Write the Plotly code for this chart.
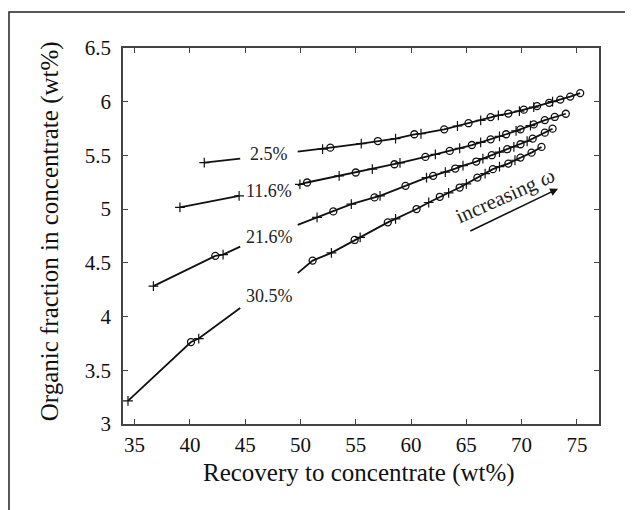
import plotly.graph_objects as go

# ---- data ----
labels = ["2.5%", "11.6%", "21.6%", "30.5%"]

s1_plus_x = [41.3, 52.0, 55.5, 58.6, 60.9, 64.2, 66.3, 67.9, 69.8, 71.1, 72.8]
s1_plus_y = [5.433, 5.558, 5.609, 5.656, 5.702, 5.774, 5.827, 5.873, 5.913, 5.950, 6.000]
s1_circ_x = [52.7, 57.0, 60.3, 63.0, 65.2, 67.2, 68.8, 70.2, 71.4, 72.5, 73.5, 74.4, 75.3]
s1_circ_y = [5.572, 5.634, 5.697, 5.743, 5.800, 5.857, 5.890, 5.926, 5.959, 5.990, 6.020, 6.048, 6.080]
s1_ends_x = [44.55, 49.75]
s1_ends_y = [5.470, 5.535]

s2_plus_x = [39.1, 44.45, 49.95, 53.5, 56.5, 59.0, 62.2, 64.4, 66.3, 68.0, 69.5, 70.8]
s2_plus_y = [5.016, 5.124, 5.230, 5.310, 5.372, 5.430, 5.509, 5.567, 5.622, 5.677, 5.729, 5.778]
s2_circ_x = [50.6, 55.0, 58.5, 61.3, 63.5, 65.5, 67.2, 68.6, 69.9, 71.1, 72.1, 73.0, 74.0]
s2_circ_y = [5.248, 5.341, 5.418, 5.486, 5.542, 5.597, 5.650, 5.697, 5.743, 5.789, 5.829, 5.858, 5.888]
s2_ends_x = [49.75]
s2_ends_y = [5.222]

s3_plus_x = [36.7, 43.0, 51.5, 54.6, 57.2, 61.4, 63.1, 64.7, 66.5, 68.0, 69.3, 70.5]
s3_plus_y = [4.283, 4.577, 4.923, 5.047, 5.124, 5.294, 5.345, 5.405, 5.470, 5.530, 5.580, 5.632]
s3_circ_x = [42.3, 52.97, 56.7, 59.5, 62.0, 64.0, 65.9, 67.3, 68.7, 69.9, 71.0, 72.1, 72.8]
s3_circ_y = [4.565, 4.979, 5.109, 5.217, 5.310, 5.378, 5.443, 5.502, 5.558, 5.604, 5.656, 5.712, 5.749]
s3_ends_x = [44.55, 49.75]
s3_ends_y = [4.651, 4.853]

s4_plus_x = [34.4, 40.8, 52.8, 55.4, 58.6, 61.6, 63.4, 65.0, 66.7, 68.0, 69.4]
s4_plus_y = [3.216, 3.795, 4.593, 4.738, 4.910, 5.062, 5.152, 5.235, 5.330, 5.395, 5.455]
s4_circ_x = [40.1, 51.1, 54.9, 57.9, 60.5, 62.6, 64.4, 66.0, 67.4, 68.8, 69.9, 70.9, 71.8]
s4_circ_y = [3.763, 4.521, 4.713, 4.877, 5.001, 5.115, 5.201, 5.294, 5.372, 5.424, 5.480, 5.526, 5.579]
s4_ends_x = [44.55, 49.75]
s4_ends_y = [4.079, 4.404]

label_x = [47.17, 47.17, 47.17, 47.17]
label_y = [5.517, 5.171, 4.744, 4.190]

x_ticks = [35, 40, 45, 50, 55, 60, 65, 70, 75]
y_ticks = [3, 3.5, 4, 4.5, 5, 5.5, 6, 6.5]

series = [
    (s1_plus_x, s1_plus_y, s1_circ_x, s1_circ_y, s1_ends_x, s1_ends_y),
    (s2_plus_x, s2_plus_y, s2_circ_x, s2_circ_y, s2_ends_x, s2_ends_y),
    (s3_plus_x, s3_plus_y, s3_circ_x, s3_circ_y, s3_ends_x, s3_ends_y),
    (s4_plus_x, s4_plus_y, s4_circ_x, s4_circ_y, s4_ends_x, s4_ends_y),
]

SERIF = "Liberation Serif, Times New Roman, serif"
fig = go.Figure()

for px_, py_, cx_, cy_, ex_, ey_ in series:
    pts = sorted(zip(px_ + cx_ + ex_, py_ + cy_ + ey_))
    left = [p for p in pts if p[0] < 47]
    right = [p for p in pts if p[0] > 47]
    lx = [p[0] for p in left] + [None] + [p[0] for p in right]
    ly = [p[1] for p in left] + [None] + [p[1] for p in right]
    fig.add_trace(go.Scatter(x=lx, y=ly, mode="lines",
                             line=dict(color="#111", width=1.8),
                             showlegend=False, hoverinfo="skip"))
    fig.add_trace(go.Scatter(x=px_, y=py_, mode="markers",
                             marker=dict(symbol="cross-thin", size=7,
                                         line=dict(color="#111", width=1.2)),
                             showlegend=False))
    fig.add_trace(go.Scatter(x=cx_, y=cy_, mode="markers",
                             marker=dict(symbol="circle-open", size=7,
                                         color="#111",
                                         line=dict(color="#111", width=1.3)),
                             showlegend=False))

for lab, lxv, lyv in zip(labels, label_x, label_y):
    fig.add_annotation(x=lxv, y=lyv, text=lab, showarrow=False,
                       font=dict(family=SERIF, size=18, color="#222"))

# arrow and text
fig.add_annotation(x=73.3, y=5.19, ax=65.23, ay=4.79, xref="x", yref="y",
                   axref="x", ayref="y", text="", showarrow=True,
                   arrowhead=2, arrowsize=1, arrowwidth=1.6, arrowcolor="#111")
fig.add_annotation(x=68.48, y=5.124, text="increasing <i>ω</i>", showarrow=False,
                   textangle=-24, font=dict(family=SERIF, size=21, color="#222"))

# axis titles
fig.add_annotation(x=0.496, y=-0.130, xref="paper", yref="paper",
                   text="Recovery to concentrate (wt%)", showarrow=False,
                   yanchor="middle", font=dict(family=SERIF, size=25, color="#111"))
fig.add_annotation(x=-0.153, y=0.513, xref="paper", yref="paper",
                   text="Organic fraction in concentrate (wt%)", showarrow=False,
                   textangle=-90, xanchor="center", yanchor="middle",
                   font=dict(family=SERIF, size=25, color="#111"))

# outer frame
fig.add_shape(type="rect", xref="paper", yref="paper",
              x0=-0.2395, x1=1.2, y0=-0.4, y1=1.0957,
              line=dict(color="#222", width=1.5), layer="below")

axis_common = dict(showgrid=False, zeroline=False, showline=True, mirror="ticks",
                   linecolor="#444", linewidth=1.5, ticks="inside", ticklen=5,
                   tickwidth=1.2, tickcolor="#444",
                   tickfont=dict(family=SERIF, size=21, color="#111"))

fig.update_xaxes(range=[33.95, 77], tickvals=x_ticks, ticklabelstandoff=1, **axis_common)
fig.update_yaxes(range=[3, 6.5], tickvals=y_ticks, ticklabelstandoff=6, **axis_common)

# page body has an 8px offset, so margins are shifted to keep the plot box in place
fig.update_layout(width=633, height=510, plot_bgcolor="white", paper_bgcolor="white",
                  margin=dict(l=115, r=42, t=40, b=94), showlegend=False)

fig.write_html("out.html")
